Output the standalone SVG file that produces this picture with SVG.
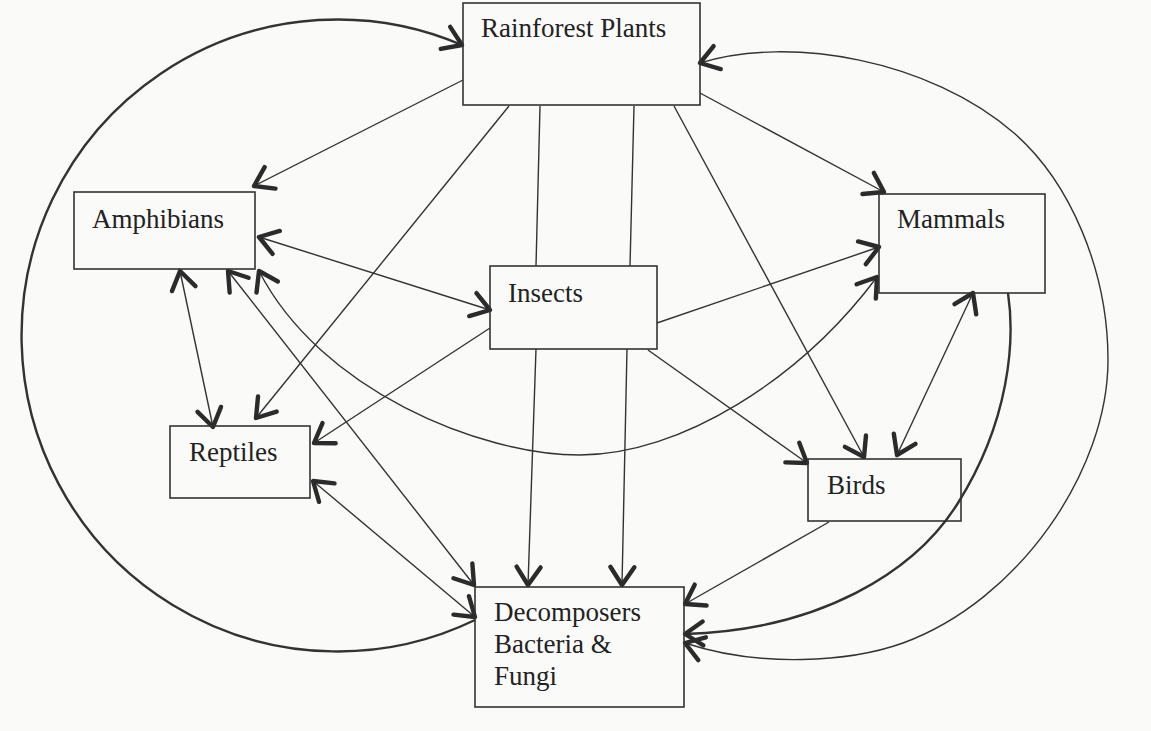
<svg xmlns="http://www.w3.org/2000/svg" width="1151" height="731" viewBox="0 0 1151 731">
<style>
.box{fill:none;stroke:#333;stroke-width:1.6}
.lbl{font-family:"Liberation Serif","Times New Roman",serif;font-size:27px;fill:#222}
.ln{fill:none;stroke:#333;stroke-width:1.4}
.thick{fill:none;stroke:#333;stroke-width:2.4}
.a1{marker-end:url(#ah)}
.a2{marker-start:url(#ah);marker-end:url(#ah)}
</style>
<defs>
<marker id="ah" viewBox="-23 -16 28 32" refX="0" refY="0" markerWidth="28" markerHeight="32" markerUnits="userSpaceOnUse" orient="auto-start-reverse">
<path d="M -18 -12 L 0 0 L -18 12" fill="none" stroke="#2b2b2b" stroke-width="4.4" stroke-linecap="round" stroke-linejoin="round"/>
</marker>
</defs>
<rect x="0" y="0" width="1151" height="731" fill="#fafaf8"/>
<g id="connectors">
<path class="thick a1" d="M 475 620 A 316 316 0 1 1 462 45"/>
<path class="ln a2" d="M 700 63 C 790 35, 930 60, 1014 133 C 1070 182, 1108 270, 1108 360 C 1108 470, 1020 600, 903 643 C 850 662, 760 668, 685 643"/>
<path class="thick a1" d="M 1008 293 C 1015 340, 1010 420, 958 503 C 915 572, 820 630, 685 634"/>
<path class="ln a2" d="M 259 271 C 320 390, 480 455, 580 455 C 680 455, 800 380, 877 277"/>
<path class="ln a1" d="M 463 80 L 254 186"/>
<path class="ln a1" d="M 509 106 L 256 418"/>
<path class="ln" d="M 540 106 L 536 266"/>
<path class="ln" d="M 634 106 L 630 266"/>
<path class="ln a1" d="M 674 106 L 864 457"/>
<path class="ln a1" d="M 700 93 L 884 192"/>
<path class="ln a2" d="M 259 237 L 490 310"/>
<path class="ln a2" d="M 180 271 L 213 427"/>
<path class="ln a2" d="M 228 271 L 474 585"/>
<path class="ln a1" d="M 490 328 L 314 443"/>
<path class="ln a1" d="M 657 323 L 879 247"/>
<path class="ln a1" d="M 648 350 L 807 463"/>
<path class="ln a1" d="M 536 349 L 528 585"/>
<path class="ln a1" d="M 627 349 L 622 585"/>
<path class="ln a2" d="M 313 481 L 475 617"/>
<path class="ln a1" d="M 829 522 L 685 604"/>
<path class="ln a2" d="M 973 293 L 897 455"/>
</g>
<g id="rainforest-plants">
<rect class="box" x="463" y="3" width="237" height="102"/>
<text class="lbl" x="481" y="37">Rainforest Plants</text>
</g>
<g id="amphibians">
<rect class="box" x="74" y="192" width="181" height="77"/>
<text class="lbl" x="92" y="228">Amphibians</text>
</g>
<g id="insects">
<rect class="box" x="490" y="266" width="167" height="83"/>
<text class="lbl" x="508" y="302">Insects</text>
</g>
<g id="mammals">
<rect class="box" x="879" y="194" width="166" height="99"/>
<text class="lbl" x="897" y="228">Mammals</text>
</g>
<g id="reptiles">
<rect class="box" x="170" y="426" width="140" height="72"/>
<text class="lbl" x="189" y="461">Reptiles</text>
</g>
<g id="birds">
<rect class="box" x="808" y="459" width="153" height="62"/>
<text class="lbl" x="827" y="494">Birds</text>
</g>
<g id="decomposers">
<rect class="box" x="475" y="587" width="209" height="120"/>
<text class="lbl" x="494" y="621">Decomposers</text>
<text class="lbl" x="494" y="653">Bacteria &amp;</text>
<text class="lbl" x="494" y="685">Fungi</text>
</g>
</svg>
